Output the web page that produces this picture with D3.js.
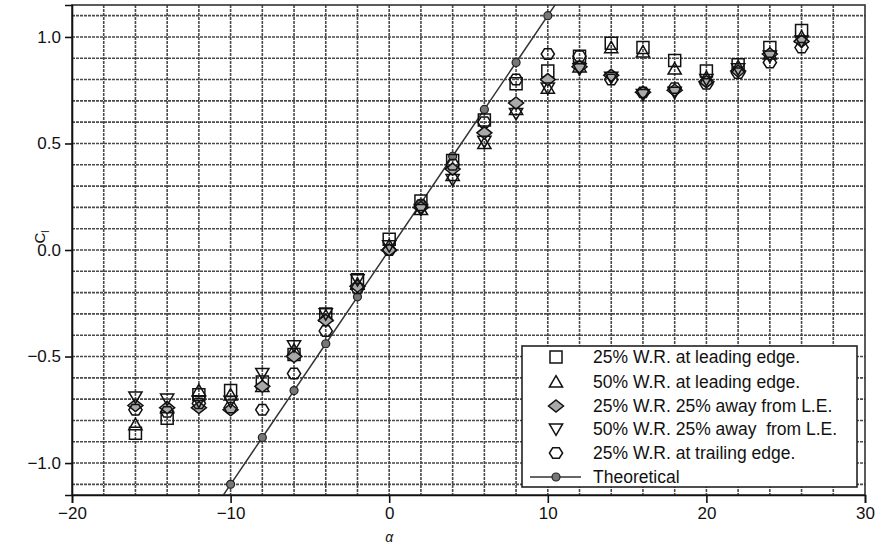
<!DOCTYPE html>
<html lang="en">
  <head>
    <meta charset="UTF-8" />
    <title>Cl vs alpha</title>
    <style>
      body { margin: 0; background: #fff; }
      text { font-family: "Liberation Sans", Arial, sans-serif; fill: #111; }
    </style>
  </head>
  <body>
    <div id="chart"></div>
    <script src="https://cdn.jsdelivr.net/npm/d3@7"></script>
    <script>
      // angle of attack
      const alpha = [-16, -14, -12, -10, -8, -6, -4, -2, 0, 2, 4, 6, 8, 10, 12, 14, 16, 18, 20, 22, 24, 26];

      const le25 = [-0.86, -0.79, -0.68, -0.66, -0.62, -0.49, -0.30, -0.14, 0.05, 0.23, 0.42, 0.61, 0.78, 0.84, 0.91, 0.97, 0.95, 0.89, 0.84, 0.87, 0.95, 1.03];
      const le50 = [-0.82, -0.74, -0.66, -0.68, -0.64, -0.47, -0.31, -0.16, 0.02, 0.19, 0.35, 0.50, 0.66, 0.76, 0.86, 0.95, 0.93, 0.85, 0.81, 0.86, 0.92, 1.00];
      const away25 = [-0.73, -0.74, -0.74, -0.75, -0.64, -0.50, -0.33, -0.17, 0.00, 0.20, 0.38, 0.55, 0.69, 0.80, 0.86, 0.82, 0.74, 0.75, 0.79, 0.84, 0.92, 0.98];
      const away50 = [-0.69, -0.70, -0.71, -0.71, -0.58, -0.45, -0.30, -0.14, 0.02, 0.19, 0.33, 0.51, 0.64, 0.76, 0.85, 0.81, 0.73, 0.74, 0.80, 0.85, 0.91, 0.98];
      const te25 = [-0.75, -0.76, -0.72, -0.74, -0.75, -0.58, -0.38, -0.18, 0.00, 0.21, 0.40, 0.60, 0.80, 0.92, 0.91, 0.80, 0.74, 0.76, 0.78, 0.83, 0.88, 0.95];

      const thAlpha = [-10, -8, -6, -4, -2, 0, 2, 4, 6, 8, 10];
      const thCl = [-1.1, -0.88, -0.66, -0.44, -0.22, 0, 0.22, 0.44, 0.66, 0.88, 1.1];

      const xTicks = [-20, -10, 0, 10, 20, 30];
      const yTicks = [-1.0, -0.5, 0.0, 0.5, 1.0];

      const labels = [
        "25% W.R. at leading edge.",
        "50% W.R. at leading edge.",
        "25% W.R. 25% away from L.E.",
        "50% W.R. 25% away  from L.E.",
        "25% W.R. at trailing edge.",
        "Theoretical"
      ];

      const width = 876, height = 546;
      const m = { left: 72, right: 11, top: 5, bottom: 51 };

      const x = d3.scaleLinear().domain([-20, 30]).range([m.left, width - m.right]);
      const y = d3.scaleLinear().domain([-1.15, 1.15]).range([height - m.bottom, m.top]);

      const svg = d3.select("#chart").append("svg")
        .attr("width", width).attr("height", height);

      svg.append("clipPath").attr("id", "clip")
        .append("rect")
        .attr("x", m.left).attr("y", m.top)
        .attr("width", x(30) - x(-20)).attr("height", y(-1.15) - y(1.15));

      // grid
      const grid = svg.append("g").attr("stroke", "#4a4a4a").attr("stroke-width", 1.6)
        .attr("stroke-dasharray", "3,1");
      grid.selectAll(".gx").data(d3.range(-18, 30, 2)).join("line")
        .attr("x1", d => x(d)).attr("x2", d => x(d))
        .attr("y1", y(1.15)).attr("y2", y(-1.15));
      grid.selectAll(".gy").data(d3.range(-11, 12).map(d => d / 10)).join("line")
        .attr("y1", d => y(d)).attr("y2", d => y(d))
        .attr("x1", x(-20)).attr("x2", x(30));

      // frame
      svg.append("rect")
        .attr("x", m.left).attr("y", m.top)
        .attr("width", x(30) - x(-20)).attr("height", y(-1.15) - y(1.15))
        .attr("fill", "none").attr("stroke", "#333").attr("stroke-width", 1.6);

      // axes
      const xAxis = svg.append("g")
        .attr("transform", `translate(0,${y(-1.15)})`)
        .call(d3.axisBottom(x).tickValues(xTicks).tickSize(8).tickPadding(4)
          .tickFormat(d => d < 0 ? "\u2212" + Math.abs(d) : d));
      const yAxis = svg.append("g")
        .attr("transform", `translate(${x(-20)},0)`)
        .call(d3.axisLeft(y).tickValues(yTicks).tickSize(7).tickPadding(4)
          .tickFormat(d => (d < 0 ? "\u2212" : "") + Math.abs(d).toFixed(1)));
      [xAxis, yAxis].forEach(a => {
        a.select(".domain").attr("stroke", "#111").attr("stroke-width", 1.6);
        a.selectAll(".tick line").attr("stroke", "#111").attr("stroke-width", 1.6);
        a.selectAll(".tick text").attr("font-size", 17)
          .attr("font-family", "Liberation Sans, Arial, sans-serif").attr("fill", "#111");
      });

      // axis titles
      svg.append("text")
        .attr("x", x(0)).attr("y", 542)
        .attr("text-anchor", "middle").attr("font-size", 14).attr("font-style", "italic")
        .text("\u03b1");
      const yl = svg.append("text")
        .attr("transform", `translate(45,237) rotate(-90)`)
        .attr("text-anchor", "middle").attr("font-size", 15);
      yl.append("tspan").text("C");
      yl.append("tspan").attr("font-size", 10).attr("dy", 4).text("l");

      // marker shapes
      const shapes = {
        square: s => `M${-s},${-s}H${s}V${s}H${-s}Z`,
        triUp: s => `M0,${-s * 1.05}L${s * 1.1},${s * 0.85}L${-s * 1.1},${s * 0.85}Z`,
        diamond: s => `M0,${-s}L${s * 1.25},0L0,${s}L${-s * 1.25},0Z`,
        triDown: s => `M0,${s * 1.05}L${s * 1.1},${-s * 0.85}L${-s * 1.1},${-s * 0.85}Z`,
        hexagon: s => {
          const p = d3.range(6).map(i => {
            const a = Math.PI / 3 * i;
            return [Math.cos(a) * s * 1.1, Math.sin(a) * s];
          });
          return "M" + p.join("L") + "Z";
        }
      };

      const series = [
        { values: le25, shape: "square", fill: "none" },
        { values: le50, shape: "triUp", fill: "none" },
        { values: away25, shape: "diamond", fill: "#a9a9a9" },
        { values: away50, shape: "triDown", fill: "none" },
        { values: te25, shape: "hexagon", fill: "none" }
      ];

      const plot = svg.append("g").attr("clip-path", "url(#clip)");

      // theoretical line, extended to the frame along its end segments
      const n = thAlpha.length;
      const slope0 = (thCl[1] - thCl[0]) / (thAlpha[1] - thAlpha[0]);
      const slope1 = (thCl[n - 1] - thCl[n - 2]) / (thAlpha[n - 1] - thAlpha[n - 2]);
      const linePts = [[thAlpha[0] - 2, thCl[0] - 2 * slope0]]
        .concat(thAlpha.map((a, i) => [a, thCl[i]]))
        .concat([[thAlpha[n - 1] + 2, thCl[n - 1] + 2 * slope1]]);
      plot.append("path")
        .datum(linePts)
        .attr("fill", "none").attr("stroke", "#333").attr("stroke-width", 1.5)
        .attr("d", d3.line().x(d => x(d[0])).y(d => y(d[1])));
      plot.selectAll(".th").data(thAlpha).join("circle")
        .attr("cx", d => x(d)).attr("cy", (d, i) => y(thCl[i]))
        .attr("r", 4).attr("fill", "#777").attr("stroke", "#222").attr("stroke-width", 1.2);

      series.forEach(s => {
        plot.append("g").selectAll("path").data(alpha).join("path")
          .attr("transform", (d, i) => `translate(${x(d)},${y(s.values[i])})`)
          .attr("d", shapes[s.shape](6))
          .attr("fill", s.fill).attr("stroke", "#111").attr("stroke-width", 1.5);
      });

      // legend
      const lg = svg.append("g");
      lg.append("rect")
        .attr("x", 522).attr("y", 346).attr("width", 335).attr("height", 141)
        .attr("fill", "#fff").attr("stroke", "#222").attr("stroke-width", 1.6);
      const rowY = [357, 382, 406, 429, 453, 477];
      series.forEach((s, i) => {
        lg.append("path")
          .attr("transform", `translate(556,${rowY[i]})`)
          .attr("d", shapes[s.shape](6))
          .attr("fill", s.fill === "none" ? "#fff" : s.fill)
          .attr("stroke", "#111").attr("stroke-width", 1.5);
      });
      lg.append("line")
        .attr("x1", 530).attr("x2", 581).attr("y1", rowY[5]).attr("y2", rowY[5])
        .attr("stroke", "#333").attr("stroke-width", 1.5);
      lg.append("circle")
        .attr("cx", 556).attr("cy", rowY[5]).attr("r", 4)
        .attr("fill", "#777").attr("stroke", "#222").attr("stroke-width", 1.2);
      lg.selectAll(".lt").data(labels).join("text")
        .attr("x", 593).attr("y", (d, i) => rowY[i] + 6)
        .attr("font-size", 17.5)
        .style("white-space", "pre")
        .text(d => d);
    </script>
  </body>
</html>
